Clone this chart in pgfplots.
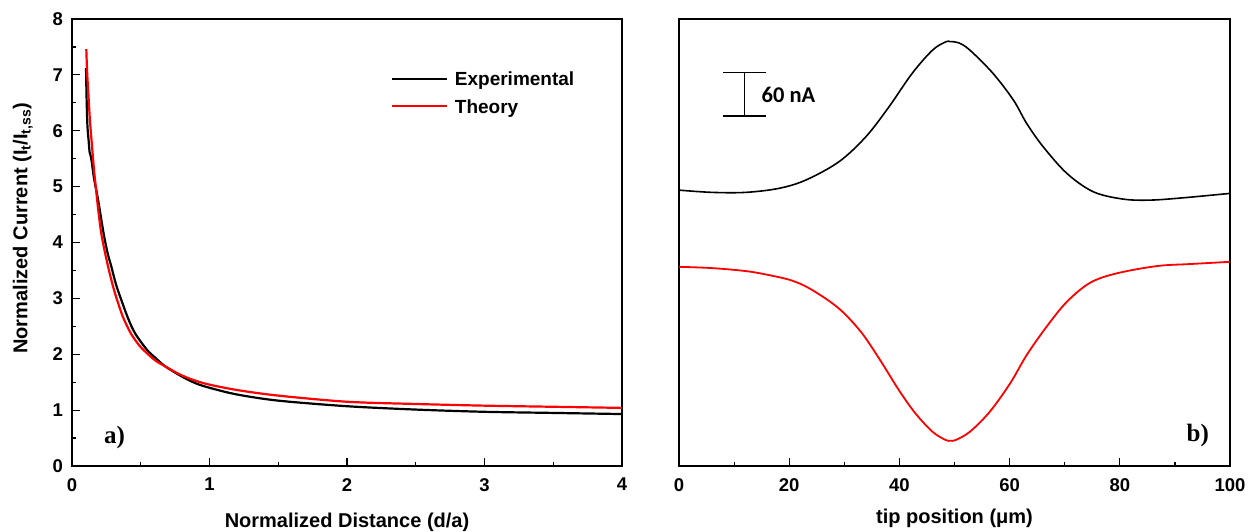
\documentclass[border=0pt]{standalone}
\usepackage{pgfplots}
\pgfplotsset{compat=1.18}
\usepackage{fontspec}
\setmainfont{Liberation Sans}
\newfontfamily\timesbf{Liberation Serif}
\newfontfamily\calib{Carlito}

\pgfplotstableread{
x y
0.102 7.12
0.106 6.6
0.112 6.1
0.12 5.85
0.128 5.62
0.136 5.55
0.145 5.42
0.16 5.15
0.19 4.76
0.23 4.16
0.26 3.8
0.286 3.57
0.32 3.25
0.359 2.97
0.41 2.63
0.46 2.37
0.545 2.08
0.6 1.95
0.68 1.78
0.8 1.6
0.9 1.48
1.0 1.4
1.2 1.28
1.5 1.17
2.0 1.07
2.5 1.01
3.0 0.97
3.5 0.95
4.0 0.93
}\expdata

\pgfplotstableread{
x y
0.104 7.46
0.11 7.05
0.12 6.62
0.13 6.2
0.143 5.8
0.16 5.3
0.175 4.95
0.19 4.6
0.213 4.16
0.24 3.82
0.267 3.52
0.3 3.2
0.327 2.98
0.37 2.67
0.424 2.39
0.47 2.22
0.51 2.1
0.6 1.9
0.68 1.78
0.8 1.62
0.96 1.48
1.2 1.36
1.5 1.26
2.0 1.15
2.5 1.11
3.0 1.08
3.5 1.06
4.0 1.04
}\theorydata

\pgfplotstableread{
x y
0 381.4
6.0 378.3
12.1 378.3
18.1 383.8
23.0 395.3
29.0 420.5
33.9 455.1
38.1 496.5
42.3 542.7
46.0 574.9
48.4 586.4
49.2 586.8
50.8 585.0
52.8 574.9
57.0 542.7
60.7 505.8
63.1 473.6
66.1 441.3
70.4 404.5
75.2 379.1
80.6 369.0
85.5 367.6
91.5 370.8
100 376.9
}\tipblack

\pgfplotstableread{
x y
0 275.4
6.0 273.6
12.1 269.5
16.3 264.0
20.6 256.1
24.2 243.2
29.0 217.9
33.0 185.6
36.3 148.8
39.9 105.0
42.9 72.8
46.0 47.4
48.4 35.9
49.3 35.0
50.2 35.9
52.8 47.4
56.4 75.0
60.1 114.3
63.1 153.4
66.7 192.5
70.4 227.1
74.6 253.3
79.4 266.3
86.7 276.4
92.7 279.2
100 282.3
}\tipred

\begin{document}
\begin{tikzpicture}[x=1pt,y=1pt]
\path[use as bounding box] (0,0) rectangle (1249,531);
\pgfplotsset{
  myaxis/.style={
    scale only axis, height=447pt, anchor=south west,
    axis line style={line width=1.5pt},
    every tick/.style={line width=1.2pt, black},
    major tick length=8pt, minor tick length=4pt,
    tick align=inside,
    xtick pos=bottom, ytick pos=left,
    /pgf/number format/assume math mode=true,
    ticklabel style={font=\bfseries\fontsize{18.5}{18.5}\selectfont},
    xticklabel style={inner sep=0pt, anchor=north, yshift=-12pt},
    yticklabel style={inner sep=0pt, anchor=east, xshift=-9pt},
    label style={font=\bfseries\fontsize{20}{24}\selectfont},
  }
}
\begin{axis}[myaxis, at={(72pt,65pt)}, width=550pt,
  xmin=0, xmax=4, ymin=0, ymax=8,
  xtick={0,1,2,3,4}, ytick={0,1,...,8},
  minor x tick num=1, minor y tick num=1,
  xlabel={Normalized Distance (d/a)},
  xlabel style={at={(axis description cs:0.5,0)}, anchor=base, yshift=-61pt},
  ylabel={Normalized Current (I\textsubscript{t}/I\textsubscript{t,ss})},
  ylabel style={at={(axis description cs:-0.081,0.532)}, anchor=base, rotate=0},
  legend style={draw=none, fill=none, inner sep=0pt, outer sep=0pt,
    at={(axis cs:2.318,7.093)}, anchor=north west,
    font=\bfseries\fontsize{19}{19}\selectfont,
    row sep=8.4pt, column sep=5pt, cells={anchor=base west}},
  legend image code/.code={\draw[#1] (0pt,6.8pt) -- (55pt,6.8pt);},
]
\addplot[black, line width=2.2pt, smooth, tension=0.5] table {\expdata};
\addlegendentry{Experimental}
\addplot[red, line width=2.2pt, smooth, tension=0.5] table {\theorydata};
\addlegendentry{Theory}
\node[anchor=base west, inner sep=0pt, font=\timesbf\bfseries\fontsize{25}{25}\selectfont] at (axis cs:0.233,0.40) {a)};
\end{axis}

\begin{axis}[myaxis, at={(679pt,65pt)}, width=551pt,
  xmin=0, xmax=100, ymin=0, ymax=618,
  xtick={0,20,...,100}, ytick=\empty,
  minor x tick num=1,
  xlabel={tip position (μm)},
  xlabel style={at={(axis description cs:0.5,0)}, anchor=base, yshift=-57pt},
]
\addplot[black, line width=1.6pt, smooth, tension=0.55] table {\tipblack};
\addplot[red, line width=1.8pt, smooth, tension=0.55] table {\tipred};
\draw[line width=1.5pt] (axis cs:8,544.1) -- (axis cs:15.8,544.1);
\draw[line width=1.5pt] (axis cs:8,484.1) -- (axis cs:15.8,484.1);
\draw[line width=1.2pt] (axis cs:11.9,544.1) -- (axis cs:11.9,484.1);
\node[anchor=base west, inner sep=0pt, font=\calib\bfseries\fontsize{22.5}{22.5}\selectfont] at (axis cs:14.97,502.1) {60 nA};
\node[anchor=base west, inner sep=0pt, font=\timesbf\bfseries\fontsize{25}{25}\selectfont] at (axis cs:92.1,34.5) {b)};
\end{axis}
\end{tikzpicture}
\end{document}
